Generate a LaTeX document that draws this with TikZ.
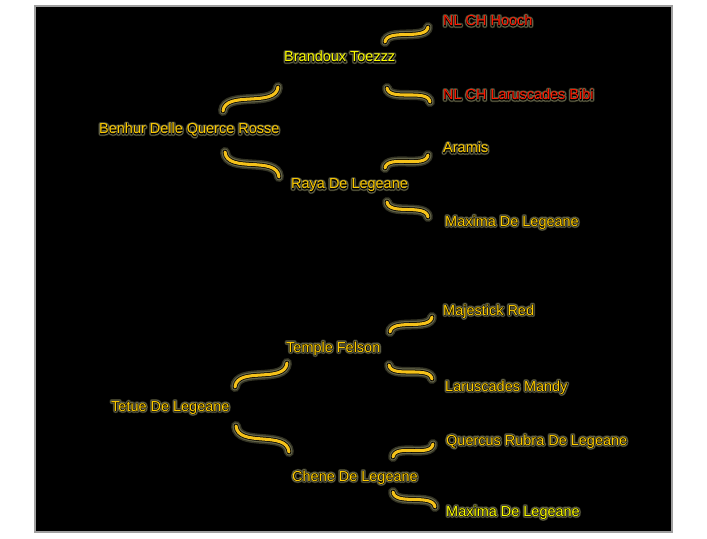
\documentclass[tikz,border=0pt]{standalone}
\usepackage{fontspec}
\setmainfont{Liberation Sans}
\definecolor{gold}{HTML}{FFCC00}
\definecolor{lemon}{HTML}{FFFF00}
\definecolor{ruby}{HTML}{FF1A00}
\definecolor{wire}{HTML}{F5C21A}
\definecolor{haloA}{rgb}{0.20,0.20,0.14}
\definecolor{haloB}{rgb}{0.40,0.40,0.29}
% stroked copies of the text give the glow
\newcommand{\strk}[3]{\rlap{\special{pdf:literal direct 1 Tr #1 w 1 j 1 J #2 RG}#3\special{pdf:literal direct 0 Tr}}}
\newcommand{\glowtxt}[2]{\strk{3.4}{0.22 0.22 0.15}{#2}\strk{2.2}{0.44 0.44 0.32}{#2}\strk{0.9}{0 0 0}{#2}\textcolor{#1}{#2}}
\begin{document}
\begin{tikzpicture}[x=0.85pt,y=-0.85pt]
\tikzstyle{nm} = [anchor=base west,inner sep=0pt,font=\fontsize{12.3}{14}\selectfont] %name
\tikzstyle{ln} = [draw=wire,line width=2.6pt,line cap=round,
  preaction={draw=haloA,line width=8.5pt,line cap=round},
  preaction={draw=haloB,line width=6pt,line cap=round},
  preaction={draw=black,line width=3.9pt,line cap=round}] %link
\useasboundingbox(0,0)rectangle(707,539);
\draw[fill=black,draw=gray!75,line width=1pt](35,6)rectangle(672,532);
% upper family
\node[nm](hooch)at(443,26){\glowtxt{ruby}{NL CH Hooch}};
\node[nm](brandoux)at(284,62){\glowtxt{lemon}{Brandoux Toezzz}};
\node[nm](bibi)at(443,100){\glowtxt{ruby}{NL CH Laruscades Bibi}};
\node[nm](benhur)at(99,134){\glowtxt{gold}{Benhur Delle Querce Rosse}};
\node[nm](aramis)at(443,153){\glowtxt{gold}{Aramis}};
\node[nm](raya)at(291,189){\glowtxt{gold}{Raya De Legeane}};
\node[nm](maximaA)at(445,226){\glowtxt{gold}{Maxima De Legeane}};
% lower family
\node[nm](majestick)at(443,315){\glowtxt{gold}{Majestick Red}};
\node[nm](temple)at(286,352){\glowtxt{gold}{Temple Felson}};
\node[nm](mandy)at(445,391){\glowtxt{gold}{Laruscades Mandy}};
\node[nm](tetue)at(111,411){\glowtxt{gold}{Tetue De Legeane}};
\node[nm](quercus)at(446,445){\glowtxt{gold}{Quercus Rubra De Legeane}};
\node[nm](chene)at(292,481){\glowtxt{gold}{Chene De Legeane}};
\node[nm](maximaB)at(446,516){\glowtxt{lemon}{Maxima De Legeane}};
% links
\draw[ln]([shift={(124,-23)}]benhur.base west) .. controls +(2,-21) and +(-2,21) .. ([shift={(-6,25)}]brandoux.base west);
\draw[ln]([shift={(126,18)}]benhur.base west) .. controls +(2,22) and +(-2,-22) .. ([shift={(-12,-12)}]raya.base west);
\draw[ln]([shift={(101,-20)}]brandoux.base west) .. controls +(2,-14) and +(-2,14) .. ([shift={(-15,1)}]hooch.base west);
\draw[ln]([shift={(103,26)}]brandoux.base west) .. controls +(2,14) and +(-2,-14) .. ([shift={(-13,2)}]bibi.base west);
\draw[ln]([shift={(94,-21)}]raya.base west) .. controls +(2,-14) and +(-2,14) .. ([shift={(-15,2)}]aramis.base west);
\draw[ln]([shift={(96,13)}]raya.base west) .. controls +(2,14) and +(-2,-14) .. ([shift={(-17,-9)}]maximaA.base west);
\draw[ln]([shift={(124,-24)}]tetue.base west) .. controls +(2,-21) and +(-2,21) .. ([shift={(1,11)}]temple.base west);
\draw[ln]([shift={(125,15)}]tetue.base west) .. controls +(2,22) and +(-2,-22) .. ([shift={(-3,-29)}]chene.base west);
\draw[ln]([shift={(104,-20)}]temple.base west) .. controls +(2,-14) and +(-2,14) .. ([shift={(-11,2)}]majestick.base west);
\draw[ln]([shift={(103,13)}]temple.base west) .. controls +(2,14) and +(-2,-14) .. ([shift={(-13,-12)}]mandy.base west);
\draw[ln]([shift={(101,-24)}]chene.base west) .. controls +(2,-14) and +(-2,14) .. ([shift={(-13,-1)}]quercus.base west);
\draw[ln]([shift={(101,11)}]chene.base west) .. controls +(2,14) and +(-2,-14) .. ([shift={(-11,-9)}]maximaB.base west);
\end{tikzpicture}
\end{document}
